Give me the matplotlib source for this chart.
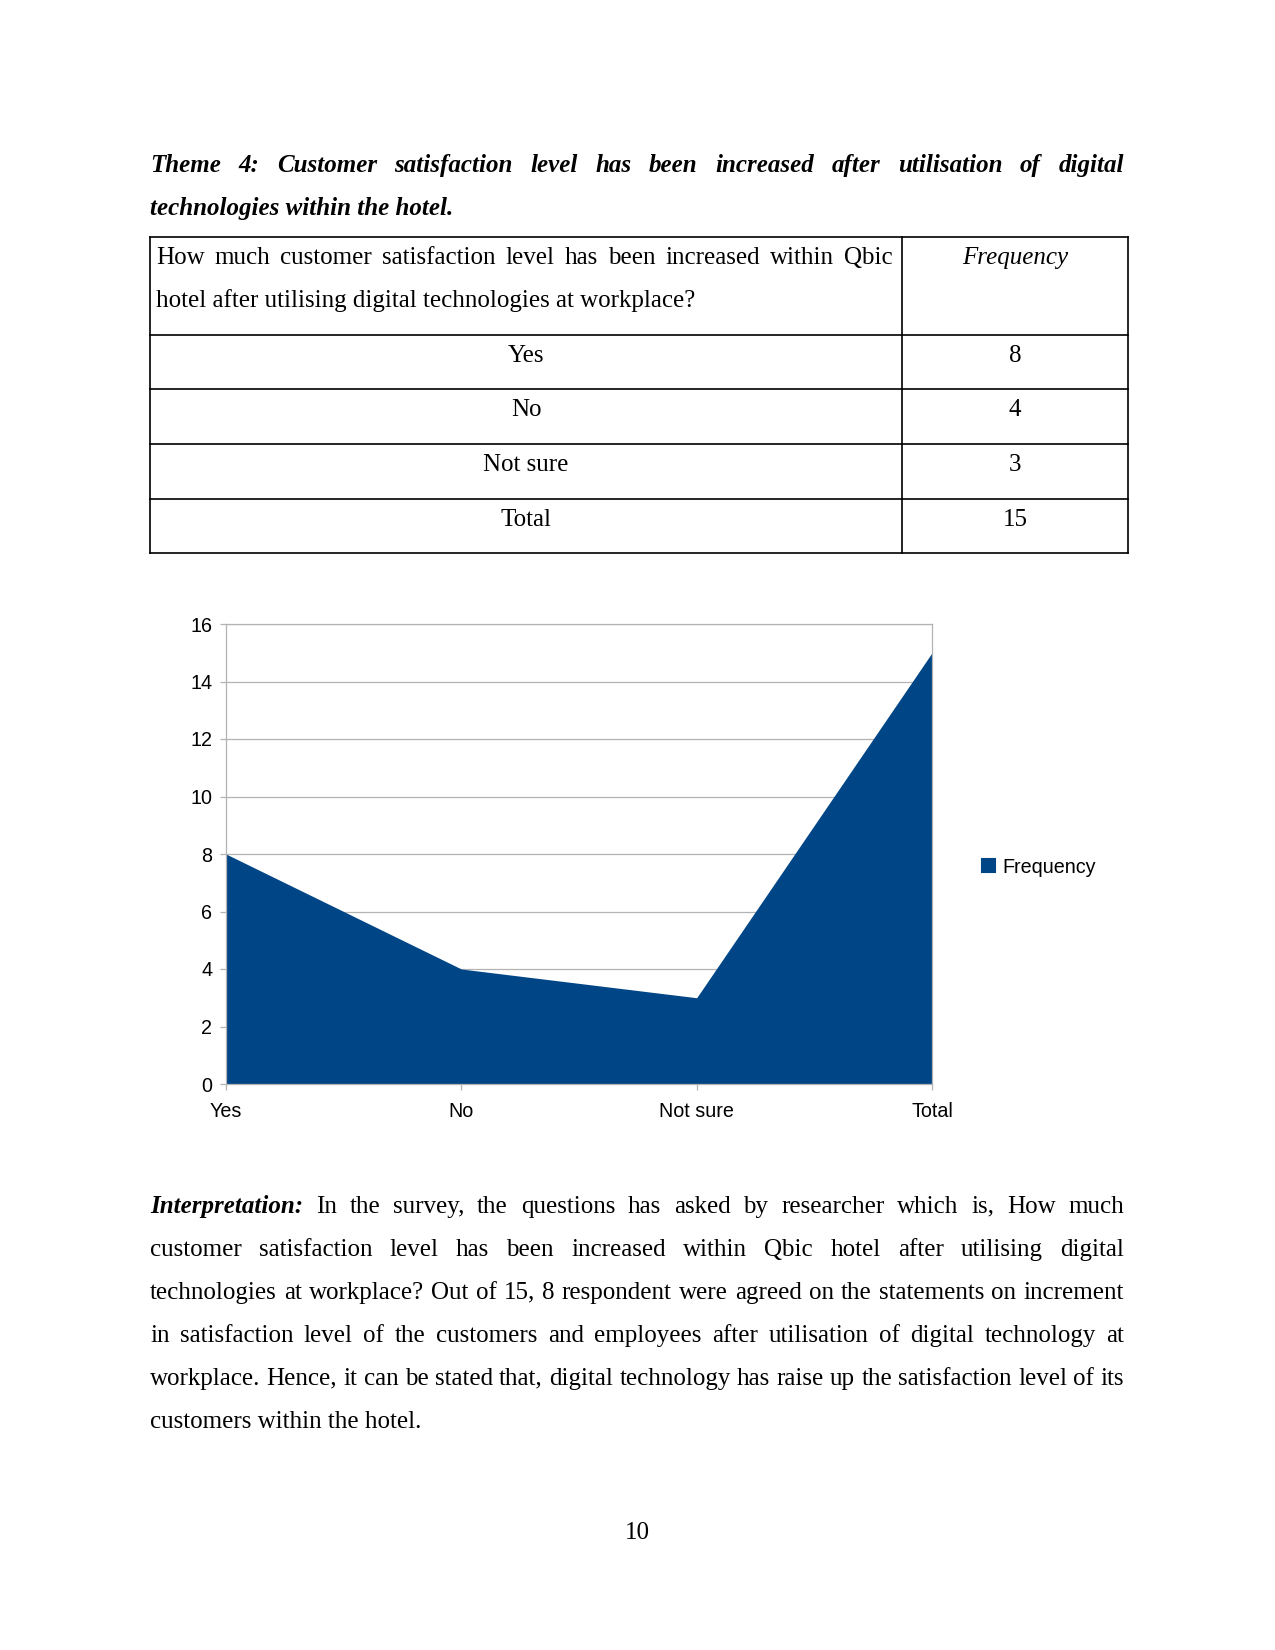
import math
import matplotlib
matplotlib.use('Agg')
import matplotlib.pyplot as plt
from matplotlib.lines import Line2D
from matplotlib.patches import Patch

W, H = 1275, 1650
DPI = 150

# data
categories = ['Yes', 'No', 'Not sure', 'Total']
frequency = [8, 4, 3, 15]
y_ticks = [0, 2, 4, 6, 8, 10, 12, 14, 16]

title_lines = ['Theme 4: Customer satisfaction level has been increased after utilisation of digital',
               'technologies within the hotel.']
question_lines = ['How much customer satisfaction level has been increased within Qbic',
                  'hotel after utilising digital technologies at workplace?']
freq_header = 'Frequency'
interp_lead = 'Interpretation:'
interp_lines = ['In the survey, the questions has asked by researcher which is, How much',
                'customer satisfaction level has been increased within Qbic hotel after utilising digital',
                'technologies at workplace? Out of 15, 8 respondent were agreed on the statements on increment',
                'in satisfaction level of the customers and employees after utilisation of digital technology at',
                'workplace. Hence, it can be stated that, digital technology has raise up the satisfaction level of its',
                'customers within the hotel.']
page_number = '10'

blue = '#004586'
grey = '#b3b3b3'

fig = plt.figure(figsize=(W / DPI, H / DPI), dpi=DPI)
renderer = fig.canvas.get_renderer()


def fx(x):
    return x / W


def fy(y):
    return 1 - y / H


def put(x, y, s, **kw):
    kw.setdefault('fontsize', 12)
    t = fig.text(fx(x), fy(y), s, family='Liberation Serif', va='baseline', **kw)
    # keep every word on the same pixel baseline (agg rounds the descent)
    w, h, d = renderer.get_text_width_height_descent(s, t.get_fontproperties(), ismath=False)
    t.set_y(fy(y + math.trunc(h) - math.trunc(h - d) - d))
    return t


def justify(x0, x1, y, words):
    # words: list of (text, style, weight)
    arts = [put(x0, y, w, style=st, weight=wt) for w, st, wt in words]
    widths = [a.get_window_extent(renderer).width for a in arts]
    gap = (x1 - x0 - sum(widths)) / (len(arts) - 1)
    x = x0
    for a, w in zip(arts, widths):
        a.set_x(fx(x))
        x += w + gap


def line(x0, y0, x1, y1):
    fig.add_artist(Line2D([fx(x0), fx(x1)], [fy(y0), fy(y1)], color='black',
                          lw=0.8, transform=fig.transFigure))


# title
justify(150, 1124, 172, [(w, 'italic', 'bold') for w in title_lines[0].split()])
put(150, 215, title_lines[1], style='italic', weight='bold')

# table
tx0, tx1, tx2 = 150, 902, 1128
row_y = [237, 335, 389, 444, 499, 553]
for y in row_y:
    line(tx0, y, tx2, y)
for x in (tx0, tx1, tx2):
    line(x, row_y[0], x, row_y[-1])

justify(156, 893, 264, [(w, 'normal', 'normal') for w in question_lines[0].split()])
put(156, 307, question_lines[1])
put((tx1 + tx2) / 2, 264, freq_header, style='italic', ha='center')
for i, (c, v) in enumerate(zip(categories, frequency)):
    yb = row_y[i + 1] + 27
    put((tx0 + tx1) / 2, yb, c, ha='center')
    put((tx1 + tx2) / 2, yb, str(v), ha='center')

# chart
ax = fig.add_axes([fx(226), fy(1084), (932 - 226) / W, (1084 - 624) / H])
x = list(range(len(categories)))
ax.fill_between(x, frequency, 0, color=blue, lw=0, zorder=2)
ax.set_xlim(0, len(categories) - 1)
ax.set_ylim(0, 16)
ax.set_yticks(y_ticks)
ax.set_xticks(x)
ax.set_xticklabels(categories)
ax.yaxis.grid(True, color=grey, lw=0.6, zorder=1)
ax.set_axisbelow(True)
for s in ax.spines.values():
    s.set_color(grey)
    s.set_linewidth(0.6)
ax.tick_params(axis='y', length=3, width=0.6, color=grey, pad=3.5, labelsize=9.5)
ax.tick_params(axis='x', length=3, width=0.6, color=grey, pad=5.5, labelsize=9.5)
for lab in ax.get_xticklabels() + ax.get_yticklabels():
    lab.set_family('Liberation Sans')
ax.get_xticklabels()[-1].set_x(2.985)

fig.legend(handles=[Patch(color=blue, label='Frequency')], loc='center left',
           bbox_to_anchor=(fx(982), fy(867)), frameon=False,
           handlelength=0.65, handleheight=0.65, handletextpad=0.4,
           borderaxespad=0, borderpad=0,
           prop={'family': 'Liberation Sans', 'size': 9.5})

# interpretation paragraph
line_y = [1213, 1256, 1299, 1342, 1385, 1428]
first = [(interp_lead, 'italic', 'bold')] + [(w, 'normal', 'normal') for w in interp_lines[0].split()]
justify(150, 1124, line_y[0], first)
for txt, y in zip(interp_lines[1:5], line_y[1:5]):
    justify(150, 1124, y, [(w, 'normal', 'normal') for w in txt.split()])
put(150, line_y[5], interp_lines[5])

put(W / 2, 1539, page_number, ha='center')

fig.savefig('out.png', dpi=DPI)
